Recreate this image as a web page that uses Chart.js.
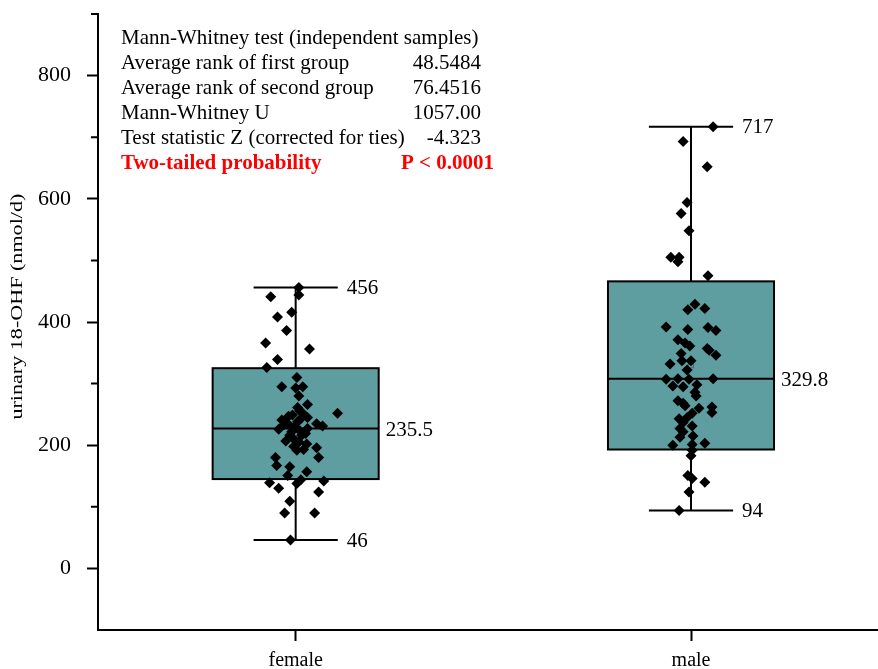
<!DOCTYPE html>
<html>
<head>
<meta charset="utf-8">
<script src="https://cdn.jsdelivr.net/npm/chart.js@4/dist/chart.umd.min.js"></script>
<style>
  html, body { margin: 0; padding: 0; background: #fff; overflow: hidden; }
  canvas { display: block; }
</style>
</head>
<body>
<canvas id="chart" width="878" height="669"></canvas>
<script>
// Groups on the x axis
const categories = ['female', 'male'];

// Individual measurements, urinary 18-OHF (nmol/d), with their jittered x position
const femaleValues = [456, 444, 441, 416, 408, 386, 366, 356, 339, 326, 310, 295, 293, 295, 280, 261, 266, 252, 252, 241,
  249, 235, 245, 235, 231, 226, 222, 224, 227, 216, 216, 207, 202, 192, 193, 196, 180, 180, 167, 165,
  157, 151, 144, 139, 130, 138, 142, 124, 109, 90, 90, 46, 238, 243, 229, 219, 212, 233, 256, 247, 205, 198];
const femaleX = [1.008, 1.008, 0.937, 0.990, 0.954, 0.977, 0.924, 1.035, 0.954, 0.927, 1.003, 0.965, 1.000, 1.018, 1.008, 1.005, 1.030, 1.106, 1.018, 0.965,
  0.992, 0.980, 1.030, 1.053, 1.068, 0.957, 0.990, 1.010, 1.030, 0.985, 1.015, 0.975, 1.028, 1.003, 1.020, 1.053, 0.949, 1.058, 0.952, 0.985,
  1.028, 0.980, 1.013, 0.934, 0.957, 1.003, 1.071, 1.058, 0.985, 0.972, 1.048, 0.987, 1.005, 1.013, 0.997, 1.025, 0.992, 0.970, 1.010, 0.982, 1.008, 0.995];

const maleValues = [717, 693, 652, 594, 576, 548, 505, 505, 498, 475, 429, 420, 422, 392, 388, 391, 386, 371, 366, 361,
  357, 354, 346, 349, 337, 337, 332, 322, 307, 308, 307, 308, 296, 295, 298, 286, 272, 264, 260, 262,
  253, 252, 243, 237, 231, 227, 222, 213, 200, 201, 203, 192, 183, 151, 146, 140, 124, 94, 280, 268, 245, 215];
const maleX = [2.056, 1.980, 2.041, 1.990, 1.975, 1.995, 1.949, 1.970, 1.967, 2.043, 2.010, 1.992, 2.035, 1.937, 1.992, 2.043, 2.063, 1.967, 1.985, 1.997,
  2.041, 2.046, 2.063, 1.975, 1.977, 2.000, 1.947, 1.990, 1.937, 1.967, 1.995, 2.056, 1.954, 1.980, 2.015, 2.010, 1.967, 1.985, 2.020, 2.053,
  2.053, 2.003, 1.970, 1.980, 2.003, 1.972, 1.980, 1.972, 1.954, 2.003, 2.035, 2.003, 2.000, 1.992, 2.003, 2.035, 1.995, 1.970, 2.013, 1.980, 1.990, 2.005];

// Box summaries per group
const boxMin    = [46, 94];
const boxQ1     = [145, 193];
const boxMedian = [227, 308];
const boxQ3     = [325, 466];
const boxMax    = [456, 717];
const boxMean   = [235.5, 329.8];

// Axis ticks
const yMajorTicks = [0, 200, 400, 600, 800];
const yMinorTicks = [100, 300, 500, 700, 900];
const yTitle = 'urinary 18-OHF (nmol/d)';

// Mann-Whitney summary
const statLabels = ['Mann-Whitney test (independent samples)', 'Average rank of first group', 'Average rank of second group',
  'Mann-Whitney U', 'Test statistic Z (corrected for ties)', 'Two-tailed probability'];
const statValues = ['', '48.5484', '76.4516', '1057.00', '-4.323', 'P < 0.0001'];

const SERIF = '"Liberation Serif", "Times New Roman", serif';
const BOX_WIDTH = 0.42;   // in category units
const CAP_WIDTH = 0.213;

const boxPlugin = {
  id: 'boxes',
  beforeDatasetsDraw(chart) {
    const { ctx, scales: { x, y } } = chart;
    ctx.save();
    categories.forEach((c, i) => {
      const cx = x.getPixelForValue(i + 1);
      const half = x.getPixelForValue(i + 1 + BOX_WIDTH / 2) - cx;
      const capHalf = x.getPixelForValue(i + 1 + CAP_WIDTH / 2) - cx;
      const yMin = y.getPixelForValue(boxMin[i]);
      const yMax = y.getPixelForValue(boxMax[i]);
      const yQ1 = y.getPixelForValue(boxQ1[i]);
      const yQ3 = y.getPixelForValue(boxQ3[i]);
      const yMed = y.getPixelForValue(boxMedian[i]);
      const yMean = y.getPixelForValue(boxMean[i]);

      ctx.strokeStyle = '#000';
      ctx.lineWidth = 2;
      ctx.beginPath();
      ctx.moveTo(cx, yQ3); ctx.lineTo(cx, yMax);
      ctx.moveTo(cx, yQ1); ctx.lineTo(cx, yMin);
      ctx.moveTo(cx - capHalf, yMax); ctx.lineTo(cx + capHalf, yMax);
      ctx.moveTo(cx - capHalf, yMin); ctx.lineTo(cx + capHalf, yMin);
      ctx.stroke();

      ctx.fillStyle = '#5F9EA0';
      ctx.fillRect(cx - half, yQ3, 2 * half, yQ1 - yQ3);
      ctx.strokeRect(cx - half, yQ3, 2 * half, yQ1 - yQ3);

      ctx.beginPath();
      ctx.moveTo(cx - half, yMed); ctx.lineTo(cx + half, yMed);
      ctx.stroke();

      // mean marker
      ctx.lineWidth = 1;
      ctx.strokeStyle = 'rgba(40,70,72,0.55)';
      ctx.strokeRect(cx - 2.5, yMean - 2.5, 5, 5);
    });
    ctx.restore();
  },
  afterDatasetsDraw(chart) {
    const { ctx, scales: { x, y } } = chart;
    ctx.save();
    ctx.fillStyle = '#000';
    ctx.font = '21px ' + SERIF;
    ctx.textAlign = 'left';
    ctx.textBaseline = 'middle';
    categories.forEach((c, i) => {
      const cx = x.getPixelForValue(i + 1);
      const half = x.getPixelForValue(i + 1 + BOX_WIDTH / 2) - cx;
      const capHalf = x.getPixelForValue(i + 1 + CAP_WIDTH / 2) - cx;
      ctx.fillText(String(boxMax[i]), cx + capHalf + 9, y.getPixelForValue(boxMax[i]) + 1);
      ctx.fillText(String(boxMin[i]), cx + capHalf + 9, y.getPixelForValue(boxMin[i]) + 1);
      ctx.fillText(boxMean[i].toFixed(1), cx + half + 7, y.getPixelForValue(boxMedian[i]) + 2);
    });
    ctx.restore();
  },
  afterDraw(chart) {
    const { ctx, chartArea, scales: { y } } = chart;
    ctx.save();
    // minor ticks on the value axis
    ctx.strokeStyle = '#000';
    ctx.lineWidth = 2;
    ctx.beginPath();
    yMinorTicks.forEach(v => {
      const py = y.getPixelForValue(v);
      ctx.moveTo(chartArea.left - 7, py);
      ctx.lineTo(chartArea.left, py);
    });
    ctx.stroke();

    // value-axis title, set in a narrow serif face
    ctx.save();
    ctx.translate(18, y.getPixelForValue(425));
    ctx.rotate(-Math.PI / 2);
    ctx.scale(1.3, 1);
    ctx.font = '17px ' + SERIF;
    ctx.fillStyle = '#000';
    ctx.textAlign = 'center';
    ctx.textBaseline = 'middle';
    ctx.fillText(yTitle, 0, 0);
    ctx.restore();

    // test summary
    const left = 121, right = 481, top = 38, step = 25.2;
    ctx.textBaseline = 'middle';
    statLabels.forEach((label, i) => {
      const last = i === statLabels.length - 1;
      ctx.fillStyle = last ? '#FF0000' : '#000';
      ctx.font = (last ? 'bold ' : '') + '21px ' + SERIF;
      ctx.textAlign = 'left';
      ctx.fillText(label, left, top + i * step);
      if (statValues[i]) {
        ctx.textAlign = 'right';
        ctx.fillText(statValues[i], last ? right + 13 : right, top + i * step);
      }
    });
    ctx.restore();
  }
};

const toPoints = (xs, vs) => vs.map((v, i) => ({ x: xs[i], y: v }));

new Chart(document.getElementById('chart'), {
  type: 'scatter',
  data: {
    datasets: [
      { label: categories[0], data: toPoints(femaleX, femaleValues) },
      { label: categories[1], data: toPoints(maleX, maleValues) }
    ]
  },
  options: {
    responsive: false,
    animation: false,
    devicePixelRatio: 1,
    layout: { autoPadding: false, padding: { top: 14, right: 0, left: 0, bottom: 0 } },
    elements: {
      point: { pointStyle: 'rectRot', radius: 5.5, backgroundColor: '#000', borderWidth: 0, hoverRadius: 5.5 }
    },
    plugins: {
      legend: { display: false },
      tooltip: { enabled: false }
    },
    scales: {
      x: {
        type: 'linear',
        min: 0.5,
        max: 2.473,
        afterBuildTicks(scale) { scale.ticks = categories.map((c, i) => ({ value: i + 1 })); },
        afterFit(scale) {
          scale.height = 39;
          scale.paddingLeft = 0; scale.paddingRight = 0;
          scale.paddingTop = 0; scale.paddingBottom = 0;
        },
        ticks: {
          callback: v => categories[v - 1] || '',
          font: { family: SERIF, size: 20 },
          color: '#000',
          padding: 8,
          maxRotation: 0
        },
        grid: { display: true, drawOnChartArea: false, drawTicks: true, tickLength: 11, tickWidth: 2, tickColor: '#000' },
        border: { display: true, color: '#000', width: 2 }
      },
      y: {
        type: 'linear',
        min: -100,
        max: 900,
        afterBuildTicks(scale) {
          scale.ticks = yMajorTicks.map(v => ({ value: v }));
        },
        afterFit(scale) {
          scale.width = 98;
          scale.paddingTop = 0; scale.paddingBottom = 0;
          scale.paddingLeft = 0; scale.paddingRight = 0;
        },
        ticks: {
          callback: v => String(v),
          font: { family: SERIF, size: 22 },
          color: '#000',
          padding: 16
        },
        grid: { display: true, drawOnChartArea: false, drawTicks: true, tickLength: 11, tickWidth: 2, tickColor: '#000' },
        border: { display: true, color: '#000', width: 2 }
      }
    }
  },
  plugins: [boxPlugin]
});
</script>
</body>
</html>
